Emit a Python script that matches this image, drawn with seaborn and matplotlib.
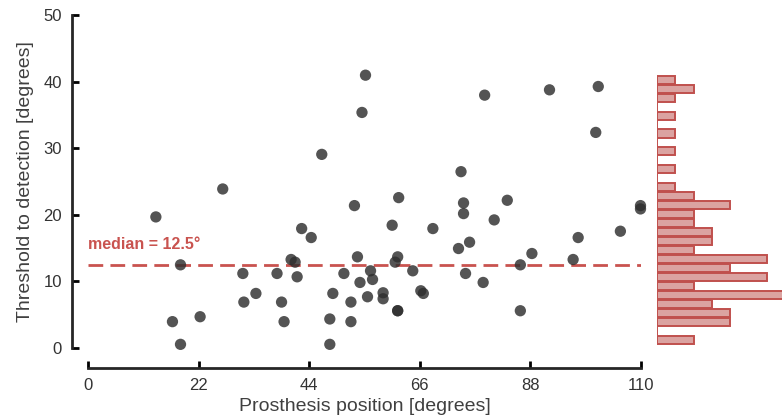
import matplotlib
matplotlib.use("Agg")
import matplotlib.pyplot as plt
import seaborn as sns
import numpy as np
import pandas as pd

# prosthesis position (deg) and threshold to detection (deg), one entry per trial
position = [55.2, 54.5, 46.5, 26.8, 53.0, 13.5, 42.5, 44.4, 53.6, 40.4,
            41.2, 18.4, 56.2, 30.8, 37.6, 50.9, 41.6, 56.6, 54.1, 33.4,
            48.7, 55.6, 31.0, 38.5, 52.3, 22.3, 16.8, 39.0, 48.1, 52.3,
            18.4, 48.1,
            78.9, 91.8, 101.5, 101.0, 74.2, 61.8, 83.4, 74.7, 109.9, 109.9,
            74.7, 80.8, 60.5, 68.6, 105.9, 97.5, 75.9, 73.7, 88.3, 61.6,
            61.1, 96.5, 86.0, 64.6, 75.1, 78.6, 58.7, 58.7, 66.2, 66.7,
            61.6, 61.6, 86.0]
threshold = [41.0, 35.4, 29.1, 23.9, 21.4, 19.7, 17.95, 16.6, 13.7, 13.3,
             12.9, 12.5, 11.6, 11.2, 11.2, 11.2, 10.7, 10.3, 9.85, 8.2,
             8.2, 7.7, 6.9, 6.9, 6.9, 4.7, 3.96, 3.96, 4.36, 3.96,
             0.55, 0.55,
             38.0, 38.8, 39.3, 32.4, 26.5, 22.6, 22.2, 21.8, 21.4, 20.9,
             20.2, 19.25, 18.45, 17.95, 17.55, 16.6, 15.9, 14.95, 14.2, 13.7,
             12.9, 13.3, 12.5, 11.6, 11.2, 9.85, 8.3, 7.4, 8.6, 8.2,
             5.6, 5.6, 5.6]
median_val = 12.5
xticks = [0, 22, 44, 66, 88, 110]
yticks = [0, 10, 20, 30, 40, 50]

df = pd.DataFrame({"position": position, "threshold": threshold})

red = "#c9534f"

sns.set_style("ticks")
plt.rcParams["font.family"] = ["Liberation Sans", "DejaVu Sans"]

fig = plt.figure(figsize=(7.82, 4.19), dpi=100)
ax = fig.add_axes([88 / 782, 71 / 419, 553 / 782, 332.7 / 419])
axh = fig.add_axes([657 / 782, 71 / 419, 125 / 782, 332.7 / 419], sharey=ax)

sns.scatterplot(data=df, x="position", y="threshold", ax=ax, s=66,
                color="#2e2e2e", alpha=0.82, edgecolor="none", clip_on=False,
                zorder=3)
ax.axhline(median_val, color=red, lw=2, dashes=(5.3, 2.6), zorder=2)
ax.text(0, 15.5, f"median = {median_val}°", color=red, fontsize=11.5,
        fontweight="bold", va="center", ha="left")

ax.set_xlim(0, 110)
ax.set_ylim(0, 50)
ax.set_xticks(xticks)
ax.set_yticks(yticks)
ax.set_xlabel("Prosthesis position [degrees]", fontsize=14, color="#404040",
              labelpad=4)
ax.set_ylabel("Threshold to detection [degrees]", fontsize=14, color="#404040",
              labelpad=7)
ax.tick_params(direction="in", length=5, width=2, labelsize=12,
               labelcolor="#333333", color="black")
ax.tick_params(axis="x", pad=7)
ax.tick_params(axis="y", pad=7)
for sp in ["left", "bottom"]:
    ax.spines[sp].set_linewidth(2)
sns.despine(ax=ax, offset={"left": 11.7, "bottom": 14.5}, trim=True)

sns.histplot(y=threshold, bins=30, ax=axh, color="#dba3a1", edgecolor="#c0504d",
             linewidth=1.4, shrink=0.9, alpha=1)
axh.set_xlim(0, 125 / 18.3)
axh.set_axis_off()

fig.savefig("out.png", dpi=100)
